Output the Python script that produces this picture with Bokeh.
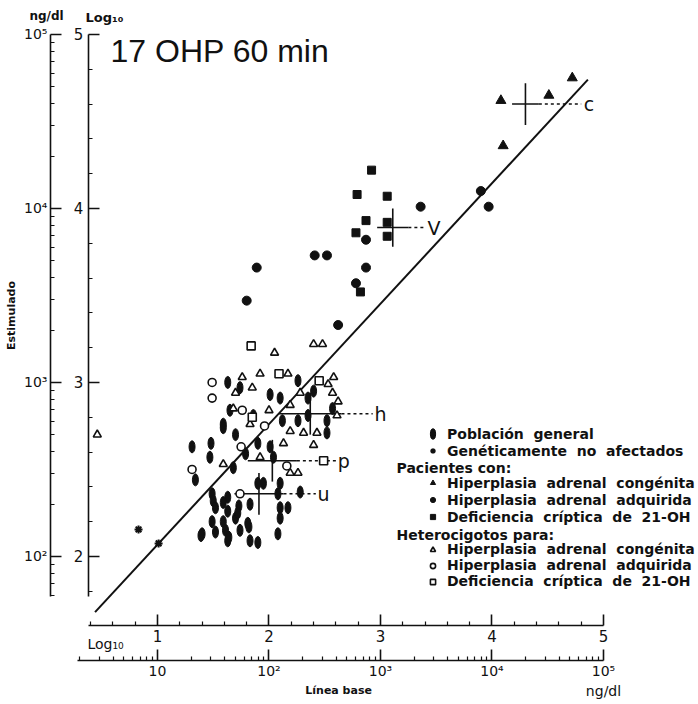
import numpy as np
from bokeh.plotting import figure
from bokeh.models import (LinearAxis, FixedTicker, Label, Range1d, Legend, LegendItem)
from bokeh.embed import file_html
from bokeh.resources import INLINE

# ---------------- data (log10 units) ----------------
# Poblacion general
pg_x = [1.63, 2.26, 1.74, 2.01, 2.40, 2.10, 2.35, 1.86, 1.59, 2.12, 1.70, 2.52, 2.52, 2.57,
        2.26, 2.35, 1.90, 2.01, 1.79, 1.68, 2.04, 1.95, 2.10, 1.90, 2.28, 2.08, 1.63, 1.49,
        2.10, 2.17, 1.31, 1.34, 1.48, 1.59, 1.65, 1.47,
        1.50, 1.52, 1.59, 1.73, 1.83, 1.49, 1.59, 1.70, 1.74, 1.82, 1.61, 1.40, 1.64, 1.83,
        1.90, 2.08, 2.10, 1.63, 1.72, 1.39, 1.52, 1.81, 1.63]
pg_y = [3.00, 3.01, 2.97, 2.93, 2.95, 2.91, 2.91, 2.81, 2.76, 2.78, 2.70, 2.71, 2.78, 2.85,
        2.78, 2.81, 2.65, 2.63, 2.59, 2.51, 2.57, 2.42, 2.42, 2.42, 2.37, 2.36, 2.34, 2.36,
        2.28, 2.28, 2.63, 2.44, 2.65, 2.74, 2.84, 2.57,
        2.32, 2.28, 2.31, 2.29, 2.30, 2.20, 2.20, 2.22, 2.15, 2.17, 2.15, 2.13, 2.11, 2.09,
        2.08, 2.13, 2.22, 2.26, 2.25, 2.12, 2.14, 2.19, 2.09]
# Geneticamente no afectados
gn_x = [0.83, 1.01]
gn_y = [2.155, 2.075]
# Pacientes: hiperplasia adrenal congenita
pc_x = [4.10, 4.08, 4.51, 4.72]
pc_y = [4.36, 4.62, 4.65, 4.75]
# Pacientes: hiperplasia adrenal adquirida
pa_x = [1.80, 1.89, 2.41, 2.52, 2.62, 2.78, 2.87, 2.87, 3.36, 3.90, 3.97]
pa_y = [3.47, 3.66, 3.73, 3.73, 3.33, 3.57, 3.66, 3.82, 4.01, 4.10, 4.01]
# Pacientes: deficiencia criptica de 21-OH
pd_x = [2.92, 2.79, 3.06, 2.87, 3.06, 2.78, 3.06, 2.82]
pd_y = [4.22, 4.08, 4.07, 3.93, 3.92, 3.86, 3.84, 3.52]
# Heterocigotos: hiperplasia adrenal congenita
hc_x = [2.40, 2.48, 2.05, 1.92, 2.17, 1.76, 2.58, 2.53, 1.85, 1.70, 2.28, 2.57, 2.62, 2.19,
        1.68, 2.00, 1.83, 2.19, 2.43, 2.31, 2.40, 2.61, 1.59, 1.92, 2.26, 2.19, 2.13, 0.46]
hc_y = [3.22, 3.22, 3.17, 3.05, 3.05, 3.03, 3.03, 2.99, 2.97, 2.94, 2.94, 2.94, 2.89, 2.87,
        2.85, 2.84, 2.76, 2.72, 2.71, 2.71, 2.64, 2.81, 2.53, 2.57, 2.48, 2.48, 2.65, 2.70]
# Heterocigotos: hiperplasia adrenal adquirida
ha_x = [1.49, 1.49, 1.76, 1.96, 1.75, 1.31, 2.16, 1.74]
ha_y = [3.00, 2.91, 2.84, 2.75, 2.63, 2.50, 2.52, 2.36]
# Heterocigotos: deficiencia criptica de 21-OH
hd_x = [1.84, 2.09, 2.45, 1.85, 2.49]
hd_y = [3.21, 3.05, 3.01, 2.80, 2.55]

# group means (crosshairs)
m_name = ["c", "V", "h", "p", "u"]
m_x = [4.30, 3.11, 2.37, 2.03, 1.91]
m_y = [4.60, 3.89, 2.82, 2.55, 2.36]
m_xerr = [0.12, 0.14, 0.28, 0.22, 0.22]
m_yerr = [0.12, 0.11, 0.12, 0.12, 0.12]
m_lab_x = [4.87, 3.48, 3.00, 2.67, 2.49]

# regression line
fit_x = [0.44, 4.86]
fit_y = [1.68, 4.74]

# axis ticks
log_major = [1, 2, 3, 4, 5]
y_major = [2, 3, 4, 5]
sup = {1: "10", 2: "10\u00b2", 3: "10\u00b3", 4: "10\u2074", 5: "10\u2075"}

# ---------------- figure ----------------
p = figure(width=698, height=704, x_range=Range1d(-0.408, 5.852), y_range=Range1d(1.149, 5.195),
           output_backend="svg", toolbar_location=None, x_axis_type=None, y_axis_type=None,
           min_border_left=0, min_border_right=0, min_border_top=0, min_border_bottom=0)
p.outline_line_color = None
p.background_fill_color = "white"

INK = "#111111"

def lin_minor(lo, hi):
    vals = np.round(np.arange(lo, hi + 1e-9, 0.2), 3)
    return [float(v) for v in vals if abs(v - round(v)) > 1e-6]

def log_minor(lo, hi):
    out = []
    for n in range(0, 6):
        for k in range(2, 10):
            v = n + np.log10(k)
            if lo <= v <= hi:
                out.append(float(v))
    return out

def style_axis(ax, font_size):
    ax.axis_line_color = INK
    ax.axis_line_width = 1.6
    ax.major_tick_line_color = INK
    ax.major_tick_line_width = 1.6
    ax.minor_tick_line_color = INK
    ax.minor_tick_line_width = 1.2
    ax.major_tick_out = 0
    ax.minor_tick_out = 0
    ax.major_tick_in = 11
    ax.minor_tick_in = 4
    ax.major_label_text_font = "DejaVu Sans"
    ax.major_label_text_font_size = font_size
    ax.major_label_text_color = INK

# left inner (Log10)
yin = LinearAxis(bounds=(1.77, 5.0), fixed_location=0.38,
                 ticker=FixedTicker(ticks=y_major, minor_ticks=lin_minor(1.8, 5.0)),
                 major_label_overrides={v: str(v) for v in y_major})
style_axis(yin, "15px")
yin.major_label_standoff = 5
p.add_layout(yin, "left")

# left outer (ng/dl)
yout = LinearAxis(bounds=(1.77, 5.0), fixed_location=0.04,
                  ticker=FixedTicker(ticks=y_major, minor_ticks=log_minor(1.77, 5.0)),
                  major_label_overrides={v: sup[v] for v in y_major},
                  axis_label="Estimulado", axis_label_standoff=3,
                  axis_label_text_font="DejaVu Sans", axis_label_text_font_style="bold",
                  axis_label_text_font_size="11px", axis_label_text_color=INK)
style_axis(yout, "14px")
yout.major_label_standoff = 3
p.add_layout(yout, "left")

# bottom inner (Log10)
xin = LinearAxis(bounds=(0.38, 5.0), fixed_location=1.603,
                 ticker=FixedTicker(ticks=log_major, minor_ticks=lin_minor(0.4, 5.0)),
                 major_label_overrides={v: str(v) for v in log_major})
style_axis(xin, "15px")
xin.major_label_standoff = 4
p.add_layout(xin, "below")

# bottom outer (ng/dl)
xout = LinearAxis(bounds=(0.28, 5.0), fixed_location=1.402,
                  ticker=FixedTicker(ticks=log_major, minor_ticks=log_minor(0.28, 5.0)),
                  major_label_overrides={v: sup[v] for v in log_major},
                  axis_label="L\u00ednea  base", axis_label_standoff=1,
                  axis_label_text_font="DejaVu Sans", axis_label_text_font_style="bold",
                  axis_label_text_font_size="11px", axis_label_text_color=INK)
style_axis(xout, "14px")
xout.major_label_standoff = 3
p.add_layout(xout, "below")

# regression line
p.line(fit_x, fit_y, line_color=INK, line_width=2)

# crosshairs for group means
mx = np.array(m_x); my = np.array(m_y); ex = np.array(m_xerr); ey = np.array(m_yerr)
lx = np.array(m_lab_x)
p.segment(mx - ex, my, mx + ex, my, line_color=INK, line_width=1.6)
p.segment(mx, my - ey, mx, my + ey, line_color=INK, line_width=1.6)
p.segment(mx + ex, my, lx - 0.07, my, line_color=INK, line_width=1.6, line_dash="3 3")
for name, xl, yl in zip(m_name, m_lab_x, m_y):
    p.add_layout(Label(x=xl, y=yl, text=name, text_align="center", text_baseline="middle",
                       text_font="DejaVu Sans", text_font_size="19px", text_color=INK))

# markers
r_pg = p.ellipse(pg_x, pg_y, width=6, height=12, width_units="screen", height_units="screen",
                 fill_color=INK, line_color=INK)
r_gn = p.scatter(gn_x, gn_y, marker="asterisk", size=8, line_color=INK, line_width=2)
r_pc = p.scatter(pc_x, pc_y, marker="triangle", size=10, fill_color=INK, line_color=INK)
r_pa = p.scatter(pa_x, pa_y, marker="circle", size=9, fill_color=INK, line_color=INK)
r_pd = p.scatter(pd_x, pd_y, marker="square", size=8, fill_color=INK, line_color=INK)
r_hc = p.scatter(hc_x, hc_y, marker="triangle", size=8, fill_color="white", line_color=INK,
                 line_width=1.6)
r_ha = p.scatter(ha_x, ha_y, marker="circle", size=8, fill_color="white", line_color=INK,
                 line_width=1.6)
r_hd = p.scatter(hd_x, hd_y, marker="square", size=8, fill_color="white", line_color=INK,
                 line_width=1.6)

# legends
def make_legend(items, loc, gh):
    lg = Legend(items=items, location=loc, orientation="vertical",
                background_fill_alpha=0.0, border_line_alpha=0.0, padding=0, margin=0,
                spacing=0, glyph_width=13, glyph_height=gh, label_height=gh, label_standoff=8,
                label_text_font="DejaVu Sans", label_text_font_style="bold",
                label_text_font_size="14px", label_text_color=INK)
    p.add_layout(lg)

make_legend([LegendItem(label="Poblaci\u00f3n  general", renderers=[r_pg]),
             LegendItem(label="Gen\u00e9ticamente  no  afectados", renderers=[r_gn])],
            (426, 245), 17)
make_legend([LegendItem(label="Hiperplasia  adrenal  cong\u00e9nita", renderers=[r_pc]),
             LegendItem(label="Hiperplasia  adrenal  adquirida", renderers=[r_pa]),
             LegendItem(label="Deficiencia  cr\u00edptica  de  21-OH", renderers=[r_pd])],
            (426, 179), 17)
make_legend([LegendItem(label="Hiperplasia  adrenal  cong\u00e9nita", renderers=[r_hc]),
             LegendItem(label="Hiperplasia  adrenal  adquirida", renderers=[r_ha]),
             LegendItem(label="Deficiencia  cr\u00edptica  de  21-OH", renderers=[r_hd])],
            (426, 115), 15)

def txt(x, y, s, size, align="left", style="bold", font="DejaVu Sans"):
    p.add_layout(Label(x=x, y=y, x_units="screen", y_units="screen", text=s,
                       text_align=align, text_baseline="middle", text_font=font,
                       text_font_style=style, text_font_size=size, text_color=INK))

txt(396, 237, "Pacientes  con:", "14px")
txt(396, 170, "Heterocigotos  para:", "14px")

# title and axis headers
txt(110, 654, "17 OHP 60 min", "32px", style="normal", font="Liberation Sans")
txt(46, 689, "ng/dl", "12px", align="center")
txt(85, 687, "Log\u2081\u2080", "13px")
txt(87, 61, "Log\u2081\u2080", "14px", style="normal")
txt(603, 14, "ng/dl", "14px", align="center", style="normal")

open("out.html", "w").write(file_html(p, INLINE))
